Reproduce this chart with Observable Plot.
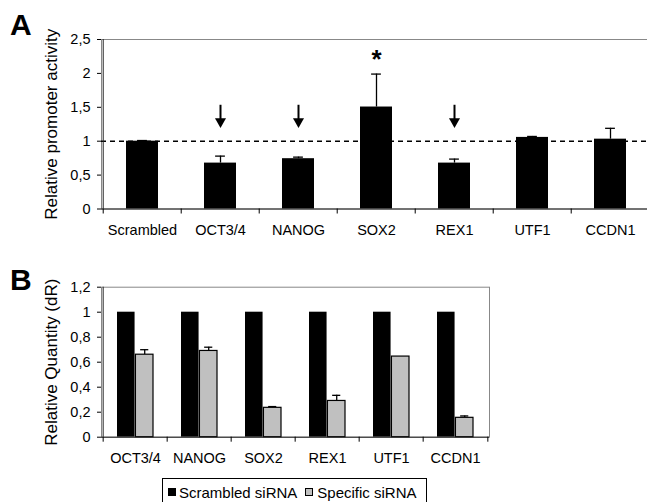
<!DOCTYPE html>
<html><head><meta charset="utf-8">
<script src="https://cdn.jsdelivr.net/npm/d3@7"></script>
<script src="https://cdn.jsdelivr.net/npm/@observablehq/plot@0.6"></script>
<style>
body{margin:0;background:#fff;font-family:"Liberation Sans",Arial,sans-serif;color:#000;}
#wrap{position:relative;width:647px;height:502px;overflow:hidden;background:#fff;}
#wrap svg{position:absolute;left:0;}
.letter{position:absolute;font-weight:bold;font-size:30px;line-height:1;left:10px;}
#legend{position:absolute;left:162px;top:478px;width:265px;height:40px;border:1px solid #000;box-sizing:border-box;}
.sw{position:absolute;width:8px;height:8px;box-sizing:border-box;}
.lt{position:absolute;font-size:15px;line-height:normal;white-space:nowrap;}
</style></head><body><div id="wrap"></div>
<script>
// ---- Panel A data ----
const genesA = ["Scrambled","OCT3/4","NANOG","SOX2","REX1","UTF1","CCDN1"];
const activityA = [1.00, 0.677, 0.742, 1.504, 0.677, 1.056, 1.03];
const errTopA = [1.01, 0.78, 0.765, 1.99, 0.736, 1.07, 1.19];
const yTicksA = [0, 0.5, 1, 1.5, 2, 2.5];
const arrowGenes = ["OCT3/4","NANOG","REX1"];
const starGenes = ["SOX2"];
const referenceLevel = 1;
const arrowTop = 1.53, arrowHead = 1.29, starLevel = 2.2;

// ---- Panel B data ----
const genesB = ["OCT3/4","NANOG","SOX2","REX1","UTF1","CCDN1"];
const scrambledB = [1, 1, 1, 1, 1, 1];
const specificB = [0.66, 0.69, 0.235, 0.29, 0.645, 0.155];
const specificErrTopB = [0.70, 0.72, 0.245, 0.335, null, 0.17];
const yTicksB = [0, 0.2, 0.4, 0.6, 0.8, 1, 1.2];
const seriesB = ["Scrambled siRNA", "Specific siRNA"];

const fmt = d => String(d).replace(".", ",");
const font = "'Liberation Sans', Arial, sans-serif";
const wrap = document.getElementById("wrap");

// ---- Panel A ----
const W = 647, hA = 245, mlA = 101, mrA = -4, mtA = 39, mbA = 36.5, padA = 0.59;
const stepA = (W - mlA - mrA) / genesA.length;
const bwA = stepA * (1 - padA);
const dataA = genesA.map((g, i) => ({gene: g, value: activityA[i], top: errTopA[i]}));

const plotA = Plot.plot({
  width: W, height: hA, marginLeft: mlA, marginRight: mrA, marginTop: mtA, marginBottom: mbA,
  style: {fontFamily: font, fontSize: "14.5px", color: "#000", background: "transparent"},
  x: {type: "band", domain: genesA, paddingInner: padA, paddingOuter: padA / 2, axis: null},
  y: {domain: [0, 2.5], axis: null},
  marks: [
    Plot.frame({stroke: "#888"}),
    Plot.ruleY([referenceLevel], {stroke: "#000", strokeWidth: 1.6, strokeDasharray: "5,4"}),
    Plot.ruleX(dataA, {x: "gene", y1: "value", y2: "top", stroke: "#000", strokeWidth: 1.3}),
    Plot.tickY(dataA, {x: "gene", y: "top", stroke: "#000", strokeWidth: 1.3, insetLeft: bwA / 2 - 5, insetRight: bwA / 2 - 5}),
    Plot.barY(dataA, {x: "gene", y: "value", fill: "#000"}),
    Plot.ruleX(arrowGenes, {x: d => d, y1: arrowTop, y2: arrowHead, stroke: "#000", strokeWidth: 2}),
    Plot.dot(arrowGenes, {x: d => d, y: arrowHead, symbol: "triangle", rotate: 180, r: 4.1, fill: "#000", stroke: "none"}),
    Plot.text(starGenes, {x: d => d, y: starLevel, text: () => "*", fontSize: 26, fontWeight: "bold"}),
    Plot.ruleY([0], {stroke: "#222"}),
    Plot.ruleX([genesA[0]], {x: d => d, y1: 0, y2: 2.5, dx: -stepA / 2, stroke: "#222"}),
    Plot.axisY({ticks: yTicksA, tickFormat: fmt, tickSize: 4, tickPadding: 7, label: null}),
    Plot.axisX({ticks: genesA, tickFormat: () => "", tickSize: 5, dx: -stepA / 2, label: null}),
    Plot.axisX({tickSize: 0, tickPadding: 16, label: null}),
    Plot.text(["Relative promoter activity"], {frameAnchor: "left", textAnchor: "middle", rotate: -90, dx: -50, fontSize: 17, text: d => d})
  ]
});
plotA.style.top = "0px";
wrap.appendChild(plotA);

// ---- Panel B ----
const wB = 500, hB = 228, mlB = 101, mrB = 11, mtB = 36.7, mbB = 41.3, padB = 0.43;
const stepB = (wB - mlB - mrB) / genesB.length;
const bwB = stepB * (1 - padB);
const dataB = genesB.map((g, i) => ({gene: g, scr: scrambledB[i], spec: specificB[i], top: specificErrTopB[i]}));
const errB = dataB.filter(d => d.top != null);

const plotB = Plot.plot({
  width: wB, height: hB, marginLeft: mlB, marginRight: mrB, marginTop: mtB, marginBottom: mbB,
  style: {fontFamily: font, fontSize: "14.5px", color: "#000", background: "transparent"},
  x: {type: "band", domain: genesB, paddingInner: padB, paddingOuter: padB / 2, axis: null},
  y: {domain: [0, 1.2], axis: null},
  marks: [
    Plot.frame({stroke: "#888"}),
    Plot.barY(dataB, {x: "gene", y: "scr", fill: "#000", insetRight: bwB / 2}),
    Plot.ruleX(errB, {x: "gene", y1: "spec", y2: "top", dx: bwB / 4, stroke: "#000", strokeWidth: 1.3}),
    Plot.tickY(errB, {x: "gene", y: "top", stroke: "#000", strokeWidth: 1.3, insetLeft: bwB * 0.75 - 4.5, insetRight: bwB * 0.25 - 4.5}),
    Plot.barY(dataB, {x: "gene", y: "spec", fill: "#c0c0c0", stroke: "#000", strokeWidth: 1.2, insetLeft: bwB / 2}),
    Plot.ruleY([0], {stroke: "#222"}),
    Plot.ruleX([genesB[0]], {x: d => d, y1: 0, y2: 1.2, dx: -stepB / 2, stroke: "#222"}),
    Plot.axisY({ticks: yTicksB, tickFormat: fmt, tickSize: 4, tickPadding: 7, label: null}),
    Plot.axisX({ticks: genesB, tickFormat: () => "", tickSize: 5, dx: -stepB / 2, label: null}),
    Plot.axisX({ticks: [genesB[genesB.length - 1]], tickFormat: () => "", tickSize: 5, dx: stepB / 2, label: null}),
    Plot.axisX({tickSize: 0, tickPadding: 16, label: null}),
    Plot.text(["Relative Quantity (dR)"], {frameAnchor: "left", textAnchor: "middle", rotate: -90, dx: -50, fontSize: 17, text: d => d})
  ]
});
plotB.style.top = "250px";
wrap.appendChild(plotB);

// ---- Panel letters ----
for (const [t, top] of [["A", 9.6], ["B", 264.6]]) {
  const d = document.createElement("div");
  d.className = "letter"; d.textContent = t; d.style.top = top + "px";
  wrap.appendChild(d);
}

// ---- Legend ----
const legend = document.createElement("div");
legend.id = "legend";
const swColors = ["#000", "#c0c0c0"];
const swLeft = [4.7, 142];
const txtLeft = [16, 154.3];
seriesB.forEach((s, i) => {
  const sw = document.createElement("div");
  sw.className = "sw";
  sw.style.left = swLeft[i] + "px"; sw.style.top = "9.3px";
  sw.style.background = swColors[i];
  sw.style.border = "1px solid #000";
  legend.appendChild(sw);
  const t = document.createElement("div");
  t.className = "lt"; t.textContent = s;
  t.style.left = txtLeft[i] + "px"; t.style.top = "4.7px";
  legend.appendChild(t);
});
wrap.appendChild(legend);
</script></body></html>
